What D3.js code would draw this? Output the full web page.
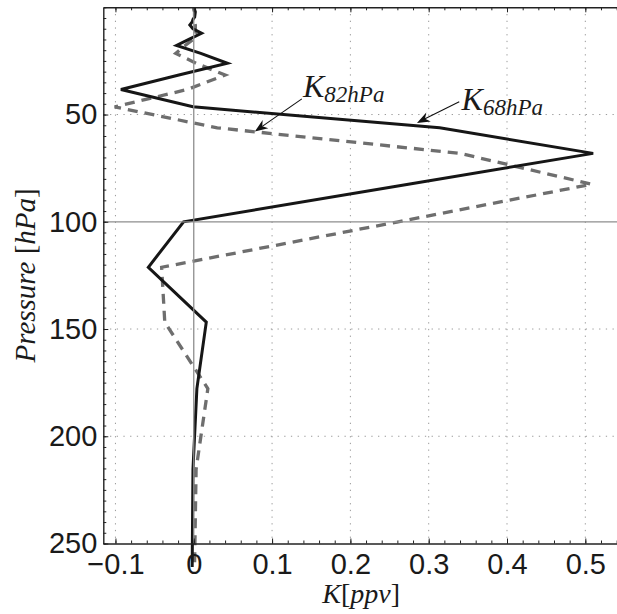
<!DOCTYPE html>
<html>
<head>
<meta charset="utf-8">
<script src="https://cdn.jsdelivr.net/npm/d3@7"></script>
<style>
  body { margin: 0; background: #fff; }
  svg { display: block; }
  .lbl { font-family: "Liberation Serif", "Times New Roman", serif; fill: #1a1a1a; }
</style>
</head>
<body>
<svg id="chart"></svg>
<script>
// pressure levels (hPa) and the two kernels
var pressure = [0.1, 1.0, 2.15, 4.64, 5.62, 6.81, 8.25, 10, 12.1, 14.7, 17.8, 21.5, 26.1,
                31.6, 38.3, 46.4, 56.2, 68.1, 82.5, 100, 121.2, 146.8, 177.8, 215.4, 261];
var k68 = [0.001, 0.001, 0.002, 0.001, -0.001, -0.002, -0.005, -0.001, 0.010, -0.005, -0.022, 0.009, 0.043,
           -0.019, -0.093, -0.001, 0.314, 0.510, 0.274, -0.013, -0.058, 0.016, 0.004, -0.001, -0.002];
var k82 = [0.000, 0.000, 0.001, 0.001, 0.000, 0.001, 0.002, 0.002, 0.003, 0.000, -0.011, -0.023, 0.003,
           0.040, -0.008, -0.101, 0.030, 0.340, 0.508, 0.261, -0.041, -0.037, 0.018, 0.003, 0.001];

var xTicks = [-0.1, 0, 0.1, 0.2, 0.3, 0.4, 0.5];
var xTickLabels = ["\u22120.1", "0", "0.1", "0.2", "0.3", "0.4", "0.5"];
var yTicks = [50, 100, 150, 200, 250];
var yTickLabels = ["50", "100", "150", "200", "250"];

var width = 617, height = 614;
var margin = { top: 7.3, left: 103.3, bottom: 70.5, right: -2 };

var svg = d3.select("#chart")
  .attr("width", width)
  .attr("height", height);

var x = d3.scaleLinear()
  .domain([-0.1155, 0.543])
  .range([margin.left, width - margin.right]);
var y = d3.scaleLinear()
  .domain([0, 250])
  .range([margin.top, height - margin.bottom]);

var axisColor = "#222";

// dotted grid
var grid = svg.append("g")
  .attr("stroke", "#9a9a9a")
  .attr("stroke-width", 1)
  .attr("stroke-dasharray", "1.3,5.4");
grid.selectAll(".gx")
  .data(xTicks.filter(d => d !== 0))
  .enter().append("line")
  .attr("x1", d => x(d)).attr("x2", d => x(d))
  .attr("y1", y(0)).attr("y2", y(250));
grid.selectAll(".gy")
  .data(yTicks.filter(d => d !== 250 && d !== 100))
  .enter().append("line")
  .attr("y1", d => y(d)).attr("y2", d => y(d))
  .attr("x1", x.range()[0]).attr("x2", x.range()[1]);

// kernels
var pts82 = pressure.map((p, i) => [k82[i], p]);
var pts68 = pressure.map((p, i) => [k68[i], p]);
var line = d3.line()
  .x(d => x(d[0]))
  .y(d => y(d[1]));

svg.append("path")
  .datum(pts82)
  .attr("d", line)
  .attr("fill", "none")
  .attr("stroke", "#6e6e6e")
  .attr("stroke-width", 3.3)
  .attr("stroke-dasharray", "10,7")
  .attr("stroke-linejoin", "miter");

svg.append("path")
  .datum(pts68)
  .attr("d", line)
  .attr("fill", "none")
  .attr("stroke", "#161616")
  .attr("stroke-width", 3)
  .attr("stroke-linejoin", "miter");

// reference lines at K=0 and 100 hPa
svg.append("line")
  .attr("x1", x(0)).attr("x2", x(0))
  .attr("y1", y(0)).attr("y2", y(250))
  .attr("stroke", "#8e8e8e").attr("stroke-width", 1.3);
svg.append("line")
  .attr("x1", x.range()[0]).attr("x2", x.range()[1])
  .attr("y1", y(100)).attr("y2", y(100))
  .attr("stroke", "#8e8e8e").attr("stroke-width", 1.3);

// axes (ticks point inward, like matlab)
function styleAxis(g) {
  g.select(".domain").attr("stroke", axisColor).attr("stroke-width", 1.4);
  g.selectAll(".tick line").attr("stroke", axisColor).attr("stroke-width", 1);
  g.selectAll(".tick text")
    .attr("fill", "#1a1a1a")
    .style("font-family", "'Liberation Sans', Arial, sans-serif")
    .style("font-size", "29px");
}

var xMinor = d3.range(-0.1, 0.541, 0.02);
var yMinor = d3.range(0, 250.1, 5);

svg.append("g")
  .attr("transform", `translate(0,${y(250)})`)
  .call(d3.axisBottom(x).tickValues(xMinor).tickSize(-3).tickSizeOuter(0).tickFormat(""))
  .call(styleAxis);
svg.append("g")
  .attr("transform", `translate(0,${y(250)})`)
  .call(d3.axisBottom(x).tickValues(xTicks).tickSize(-5).tickSizeOuter(0)
    .tickPadding(10).tickFormat((d, i) => xTickLabels[i]))
  .call(styleAxis)
  .call(g => g.select(".domain").remove());

svg.append("g")
  .attr("transform", `translate(0,${y(0)})`)
  .call(d3.axisTop(x).tickValues(xMinor).tickSize(-3).tickSizeOuter(0).tickFormat(""))
  .call(styleAxis);
svg.append("g")
  .attr("transform", `translate(0,${y(0)})`)
  .call(d3.axisTop(x).tickValues(xTicks).tickSize(-5).tickSizeOuter(0).tickFormat(""))
  .call(styleAxis)
  .call(g => g.select(".domain").remove());

svg.append("g")
  .attr("transform", `translate(${x.range()[0]},0)`)
  .call(d3.axisLeft(y).tickValues(yMinor).tickSize(-3).tickSizeOuter(0).tickFormat(""))
  .call(styleAxis);
svg.append("g")
  .attr("transform", `translate(${x.range()[0]},0)`)
  .call(d3.axisLeft(y).tickValues(yTicks).tickSize(-5).tickSizeOuter(0)
    .tickPadding(6).tickFormat((d, i) => yTickLabels[i]))
  .call(styleAxis)
  .call(g => g.select(".domain").remove());

// axis titles
var xt = svg.append("text")
  .attr("class", "lbl")
  .attr("x", (x.range()[0] + x.range()[1]) / 2)
  .attr("y", 603)
  .attr("text-anchor", "middle")
  .attr("font-size", 28);
xt.append("tspan").attr("font-style", "italic").text("K");
xt.append("tspan").text("[");
xt.append("tspan").attr("font-style", "italic").text("ppv");
xt.append("tspan").text("]");

var yt = svg.append("text")
  .attr("class", "lbl")
  .attr("transform", `translate(34.5,${(y(0) + y(250)) / 2}) rotate(-90)`)
  .attr("text-anchor", "middle")
  .attr("font-size", 29);
yt.append("tspan").attr("font-style", "italic").text("Pressure ");
yt.append("tspan").text("[");
yt.append("tspan").attr("font-style", "italic").text("hPa");
yt.append("tspan").text("]");

// annotations, placed in data units
var notes = [
  { sub: "82hPa", tx: 0.1395, tp: 42.0, from: [0.138, 42.7], to: [0.078, 57.9] },
  { sub: "68hPa", tx: 0.342, tp: 47.9, from: [0.339, 44.0], to: [0.285, 53.9] }
];

notes.forEach(function(n) {
  var t = svg.append("text")
    .attr("class", "lbl")
    .attr("x", x(n.tx))
    .attr("y", y(n.tp))
    .attr("font-style", "italic")
    .attr("font-size", 32);
  t.append("tspan").text("K");
  t.append("tspan").attr("font-size", 23).attr("dy", 4.5).text(n.sub);

  var x1 = x(n.from[0]), y1 = y(n.from[1]), x2 = x(n.to[0]), y2 = y(n.to[1]);
  var dx = x2 - x1, dy = y2 - y1, len = Math.hypot(dx, dy), ux = dx / len, uy = dy / len;
  var L = 13, W = 5, N = 9;
  var bx = x2 - ux * L, by = y2 - uy * L;
  svg.append("line")
    .attr("x1", x1).attr("y1", y1)
    .attr("x2", x2 - ux * N).attr("y2", y2 - uy * N)
    .attr("stroke", "#111").attr("stroke-width", 1.1);
  svg.append("path")
    .attr("d", `M${x2},${y2}L${bx - uy * W},${by + ux * W}L${x2 - ux * N},${y2 - uy * N}L${bx + uy * W},${by - ux * W}Z`)
    .attr("fill", "#111");
});
</script>
</body>
</html>
